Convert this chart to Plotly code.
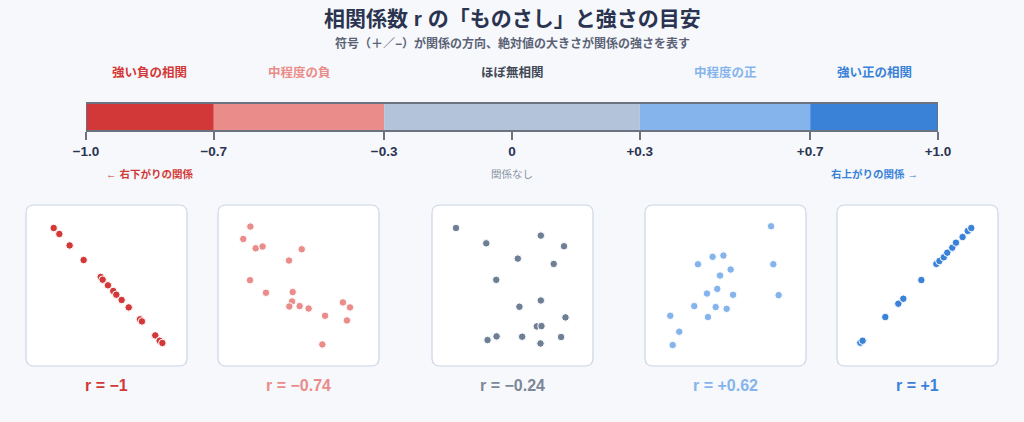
import plotly.graph_objects as go

# ---------------- data ----------------
categories = ["強い負の相関", "中程度の負", "ほぼ無相関", "中程度の正", "強い正の相関"]
bounds = [-1.0, -0.7, -0.3, 0.3, 0.7, 1.0]
tick_vals = [-1.0, -0.7, -0.3, 0.0, 0.3, 0.7, 1.0]
tick_text = ["−1.0", "−0.7", "−0.3", "0", "+0.3", "+0.7", "+1.0"]
direction_labels = ["← 右下がりの関係", "関係なし", "右上がりの関係 →"]
direction_pos = [-0.85, 0.0, 0.85]
r_labels = ["r = −1", "r = −0.74", "r = −0.24", "r = +0.62", "r = +1"]

p1_x = [0.172, 0.207, 0.271, 0.358, 0.464, 0.476, 0.509, 0.542, 0.561, 0.594, 0.638, 0.708, 0.720, 0.803, 0.830, 0.847]
p1_y = [0.857, 0.820, 0.749, 0.658, 0.553, 0.536, 0.501, 0.466, 0.443, 0.410, 0.364, 0.290, 0.277, 0.190, 0.157, 0.143]

p2_x = [0.201, 0.157, 0.234, 0.277, 0.520, 0.441, 0.199, 0.298, 0.464, 0.460, 0.443, 0.507, 0.563, 0.665, 0.776, 0.820, 0.801, 0.648]
p2_y = [0.866, 0.789, 0.731, 0.742, 0.725, 0.655, 0.533, 0.455, 0.459, 0.401, 0.370, 0.372, 0.357, 0.312, 0.395, 0.364, 0.283, 0.134]

p3_x = [0.149, 0.337, 0.676, 0.820, 0.533, 0.756, 0.399, 0.676, 0.543, 0.829, 0.651, 0.680, 0.401, 0.560, 0.802, 0.345, 0.674]
p3_y = [0.857, 0.762, 0.810, 0.744, 0.667, 0.634, 0.535, 0.407, 0.368, 0.302, 0.246, 0.248, 0.184, 0.182, 0.180, 0.161, 0.140]

p4_x = [0.783, 0.420, 0.487, 0.329, 0.532, 0.797, 0.466, 0.449, 0.385, 0.547, 0.830, 0.306, 0.439, 0.507, 0.391, 0.157, 0.213, 0.172]
p4_y = [0.868, 0.678, 0.686, 0.632, 0.599, 0.632, 0.562, 0.479, 0.450, 0.442, 0.440, 0.372, 0.366, 0.355, 0.304, 0.312, 0.213, 0.130]

p5_x = [0.145, 0.159, 0.300, 0.381, 0.412, 0.524, 0.617, 0.636, 0.663, 0.685, 0.716, 0.739, 0.780, 0.812, 0.834]
p5_y = [0.145, 0.157, 0.304, 0.387, 0.418, 0.534, 0.634, 0.652, 0.675, 0.704, 0.735, 0.766, 0.801, 0.839, 0.857]

panels_x = [p1_x, p2_x, p3_x, p4_x, p5_x]
panels_y = [p1_y, p2_y, p3_y, p4_y, p5_y]

# ---------------- style ----------------
W, H = 1024, 422
BG = "#f6f8fc"
FONT = "Liberation Sans, Arial, Noto Sans CJK JP, sans-serif"
seg_colors = ["#d33838", "#ea8c8a", "#b3c3d9", "#85b4ec", "#3a82d7"]
pt_colors = ["#d33838", "#ea8c8a", "#6e7e94", "#85b4ec", "#3a82d7"]
cat_colors = ["#d33838", "#ea8c8a", "#414855", "#85b4ec", "#3a82d7"]
rlab_colors = ["#d33838", "#ea8c8a", "#7c8798", "#85b4ec", "#3a82d7"]
dir_colors = ["#d33838", "#8a93a3", "#3a82d7"]
dir_weights = ["bold", "normal", "bold"]
NAVY = "#2a3450"


def px(x):
    return x / W


def py(y):
    return 1 - y / H


bar_left, bar_right, bar_top, bar_bot = 86, 938, 103, 131
panel_lefts = [26, 218, 432, 645, 837]
panel_w = 161
panel_top, panel_bot = 205, 366

fig = go.Figure()

# scale bar
widths = [b - a for a, b in zip(bounds[:-1], bounds[1:])]
fig.add_trace(go.Bar(
    x=widths, base=bounds[:-1], y=[0] * len(widths), orientation="h",
    marker=dict(color=seg_colors, line=dict(width=0)), width=1,
    xaxis="x", yaxis="y", showlegend=False, hoverinfo="skip",
))

layout = dict(
    width=W, height=H, autosize=False, margin=dict(l=0, r=0, t=0, b=0, pad=0, autoexpand=False),
    paper_bgcolor=BG, plot_bgcolor="rgba(0,0,0,0)",
    font=dict(family=FONT, color=NAVY), showlegend=False,
    xaxis=dict(domain=[px(bar_left), px(bar_right)], range=[-1, 1], showgrid=False,
               zeroline=False, showline=False, tickvals=tick_vals, ticktext=tick_text,
               ticks="outside", ticklen=8, tickwidth=1.5, tickcolor="#6b7280",
               tickfont=dict(size=13.5, color=NAVY, weight="bold", family=FONT),
               fixedrange=True),
    yaxis=dict(domain=[py(bar_bot), py(bar_top)], range=[-0.5, 0.5], showgrid=False,
               zeroline=False, showticklabels=False, ticks="", fixedrange=True),
)

shapes = []
annotations = []

# bar outline
shapes.append(dict(type="rect", xref="x", yref="y domain", x0=bounds[0], x1=bounds[-1],
                   y0=0, y1=1, line=dict(color="#6b7280", width=1.8), layer="above"))


def rounded(x0, y0, x1, y1, r=8):
    rx, ry = r / W, r / H
    X0, X1, Y0, Y1 = px(x0), px(x1), py(y1), py(y0)
    return (f"M {X0+rx},{Y1} L {X1-rx},{Y1} Q {X1},{Y1} {X1},{Y1-ry} "
            f"L {X1},{Y0+ry} Q {X1},{Y0} {X1-rx},{Y0} L {X0+rx},{Y0} "
            f"Q {X0},{Y0} {X0},{Y0+ry} L {X0},{Y1-ry} Q {X0},{Y1} {X0+rx},{Y1} Z")


for i in range(5):
    ax = i + 2
    l = panel_lefts[i]
    fig.add_trace(go.Scatter(
        x=panels_x[i], y=panels_y[i], mode="markers",
        marker=dict(size=7.5, color=pt_colors[i], line=dict(color="white", width=1)),
        xaxis=f"x{ax}", yaxis=f"y{ax}", showlegend=False, hoverinfo="skip",
    ))
    layout[f"xaxis{ax}"] = dict(domain=[px(l), px(l + panel_w)], range=[0, 1], visible=False,
                                fixedrange=True)
    layout[f"yaxis{ax}"] = dict(domain=[py(panel_bot), py(panel_top)], range=[0, 1],
                                visible=False, fixedrange=True)
    shapes.append(dict(type="path", xref="paper", yref="paper",
                       path=rounded(l, panel_top, l + panel_w, panel_bot),
                       fillcolor="white", line=dict(color="#ccd6e6", width=1.2), layer="below"))
    annotations.append(dict(text=r_labels[i], xref=f"x{ax} domain", x=0.5, yref="paper",
                            y=py(385), showarrow=False, xanchor="center", yanchor="middle",
                            font=dict(size=16, color=rlab_colors[i], weight="bold", family=FONT)))

# category labels at segment centres
for i, c in enumerate(categories):
    mid = (bounds[i] + bounds[i + 1]) / 2
    annotations.append(dict(text=c, xref="x", x=mid, yref="paper", y=py(72), showarrow=False,
                            xanchor="center", yanchor="middle",
                            font=dict(size=12.5, color=cat_colors[i], weight="bold", family=FONT)))

for t, xv, col, wt in zip(direction_labels, direction_pos, dir_colors, dir_weights):
    annotations.append(dict(text=t, xref="x", x=xv, yref="paper", y=py(174), showarrow=False,
                            xanchor="center", yanchor="middle",
                            font=dict(size=10.5, color=col, weight=wt, family=FONT)))

annotations.append(dict(text="相関係数 r の「ものさし」と強さの目安", xref="paper", x=0.5,
                        yref="paper", y=py(19), showarrow=False, xanchor="center", yanchor="middle",
                        font=dict(size=21, color=NAVY, weight="bold", family=FONT)))
annotations.append(dict(text="符号（＋／−）が関係の方向、絶対値の大きさが関係の強さを表す", xref="paper",
                        x=0.5, yref="paper", y=py(43), showarrow=False, xanchor="center",
                        yanchor="middle",
                        font=dict(size=12, color="#5b6275", weight="bold", family=FONT)))

layout["shapes"] = shapes
layout["annotations"] = annotations
fig.update_layout(**layout)
fig.write_html(
    "out.html",
    config={"responsive": False, "displayModeBar": False},
    post_script="document.body.style.margin='0';document.body.style.overflow='hidden';",
)
